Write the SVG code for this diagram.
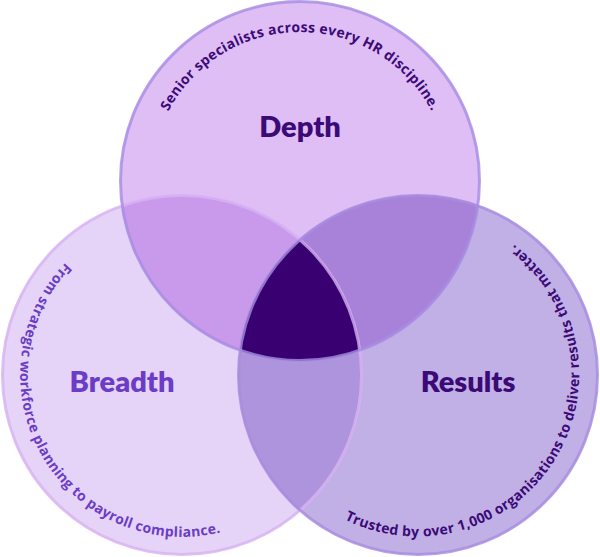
<svg xmlns="http://www.w3.org/2000/svg" width="600" height="557" viewBox="0 0 600 557">
<style>
.head{font-family:"Lato","Open Sans",sans-serif;font-weight:800;font-size:29px;text-anchor:middle}
.arc{font-family:"Open Sans","Lato",sans-serif;font-weight:700;font-size:14px;letter-spacing:0.3px}
.dark{fill:#3b0a77}
.mid{fill:#6b3cc6}
.ring{fill:none;stroke-width:3}
</style>
<defs>
<clipPath id="cL"><circle cx="182" cy="375" r="180"/></clipPath>
<clipPath id="cR"><circle cx="418" cy="375" r="180"/></clipPath>
<path id="pTop" d="M151,181 A149,149 0 0 1 449,181"/>
<path id="pLeft" d="M65.5,262.5 A162,162 0 0 0 263,515.3"/>
<path id="pRight" d="M344.5,519.3 A162,162 0 0 0 499,234.7"/>
</defs>
<g id="regions">
<circle cx="182" cy="375" r="180" fill="#e5d4f7"/>
<circle cx="418" cy="375" r="180" fill="#c1b0e5"/>
<circle cx="300" cy="181" r="180" fill="#dfbdf5"/>
<circle cx="418" cy="375" r="180" fill="#ad94dc" clip-path="url(#cL)"/>
<circle cx="300" cy="181" r="180" fill="#c99aeb" clip-path="url(#cL)"/>
<circle cx="300" cy="181" r="180" fill="#a882d9" clip-path="url(#cR)"/>
<g clip-path="url(#cL)"><circle cx="300" cy="181" r="180" fill="#380070" clip-path="url(#cR)"/></g>
</g>
<g id="breadth">
<circle class="ring" cx="182" cy="375" r="179.5" stroke="#d8b3f3" stroke-opacity="0.8"/>
<text class="head mid" x="122" y="392">Breadth</text>
<text class="arc mid"><textPath href="#pLeft">From strategic workforce planning to payroll compliance.</textPath></text>
</g>
<g id="results">
<circle class="ring" cx="418" cy="375" r="179.5" stroke="#a88ce0" stroke-opacity="0.8"/>
<text class="head dark" x="468" y="392">Results</text>
<text class="arc dark"><textPath href="#pRight">Trusted by over 1,000 organisations to deliver results that matter.</textPath></text>
</g>
<g id="depth">
<circle class="ring" cx="300" cy="181" r="179.5" stroke="#a68de3" stroke-opacity="0.8"/>
<text class="head dark" x="300" y="137">Depth</text>
<text class="arc dark"><textPath href="#pTop" startOffset="50%" text-anchor="middle">Senior specialists across every HR discipline.</textPath></text>
</g>
</svg>
